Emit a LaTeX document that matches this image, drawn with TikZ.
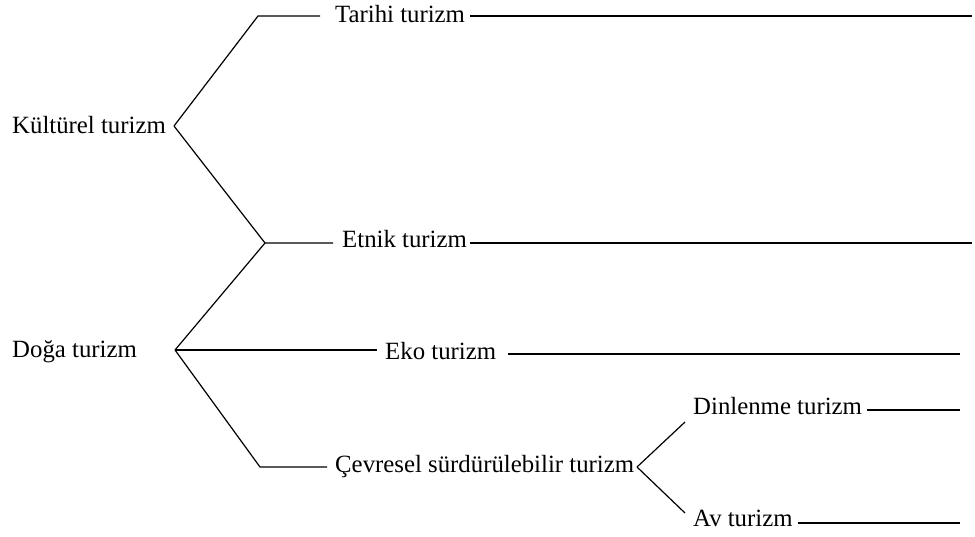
\documentclass[tikz,border=0pt]{standalone}
\usepackage{fontspec}
\setmainfont{Liberation Serif}
\begin{document}
\begin{tikzpicture}[x=1pt,y=-1pt,
  lbl/.style={inner sep=0pt,anchor=mid west,font=\fontsize{24.8}{28}\selectfont},
  conn/.style={draw=black,line width=1.2pt}]
\useasboundingbox (0,0) rectangle (975,536);
% labels
\node[lbl] (kultur) at (12,131) {Kültürel turizm};
\node[lbl] (doga) at (12,355) {Doğa turizm};
\node[lbl] (tarihi) at (335,20) {Tarihi turizm};
\node[lbl] (etnik) at (342,245) {Etnik turizm};
\node[lbl] (eko) at (385,357) {Eko turizm};
\node[lbl] (cevre) at (335,470) {Çevresel sürdürülebilir turizm};
\node[lbl] (dinlen) at (693,412) {Dinlenme turizm};
\node[lbl] (av) at (693,524) {Av turizm};
% branching points
\coordinate (vk) at (174,126);
\coordinate (vd) at (175,350);
\coordinate (vc) at (637,467);
\coordinate (ct) at (258,16);
\coordinate (ce) at (265,243);
\coordinate (cc) at (260,467);
\coordinate (ctl) at (320,16);
\coordinate (cel) at (333,243);
\coordinate (cdl) at (377,350);
\coordinate (ccl) at (327,467);
\coordinate (cdn) at (685,422);
\coordinate (cav) at (685,513);
% right ends
\coordinate (tR1) at (470,16);  \coordinate (tR2) at (972,16);
\coordinate (eR1) at (470,243); \coordinate (eR2) at (972,243);
\coordinate (kR1) at (508,354); \coordinate (kR2) at (960,354);
\coordinate (dR1) at (867,410); \coordinate (dR2) at (960,410);
\coordinate (aR1) at (798,523); \coordinate (aR2) at (960,523);
% connectors
\draw[conn] (vk) -- (ct) -- (ctl);
\draw[conn] (vk) -- (ce) -- (cel);
\draw[conn] (vd) -- (ce);
\draw[conn] (vd) -- (cdl);
\draw[conn] (vd) -- (cc) -- (ccl);
\draw[conn] (vc) -- (cdn);
\draw[conn] (vc) -- (cav);
\draw[conn] (tR1) -- (tR2);
\draw[conn] (eR1) -- (eR2);
\draw[conn] (kR1) -- (kR2);
\draw[conn] (dR1) -- (dR2);
\draw[conn] (aR1) -- (aR2);
\end{tikzpicture}
\end{document}
